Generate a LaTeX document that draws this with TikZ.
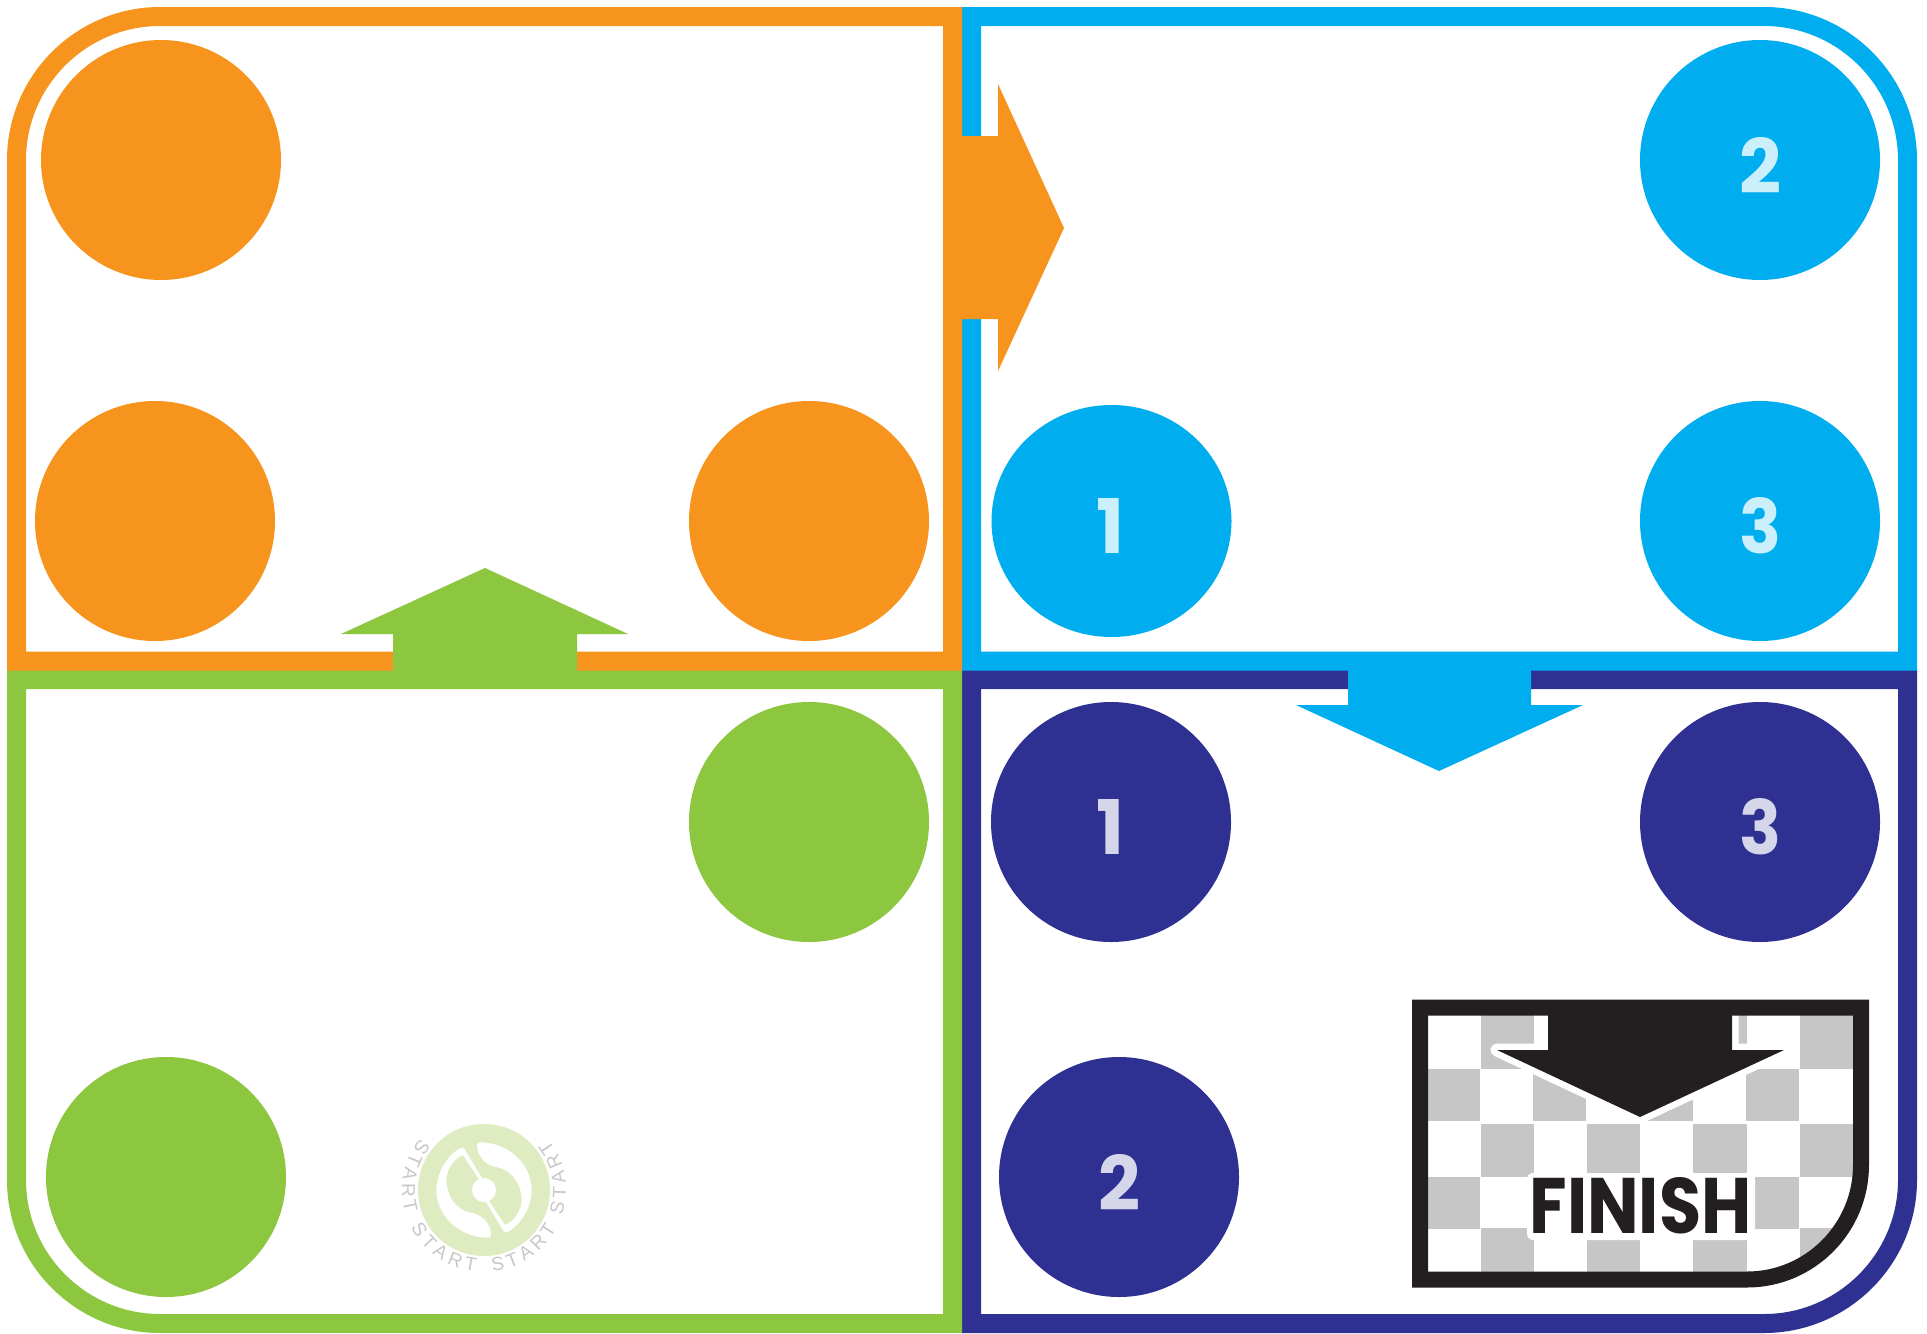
\documentclass[tikz,border=0pt]{standalone}
\usepackage{graphicx}
\usepackage{fontspec}
\usetikzlibrary{shapes.geometric,decorations.text}
\setmainfont{Poppins}
\newfontfamily\startfont{Liberation Sans}
\definecolor{cOrange}{HTML}{F7941E}
\definecolor{cBlue}{HTML}{00AEEF}
\definecolor{cNavy}{HTML}{2E3192}
\definecolor{cGreen}{HTML}{8DC63F}
\definecolor{cBlack}{HTML}{231F20}
\definecolor{cCheck}{HTML}{C6C6C6}
\definecolor{cLogo}{HTML}{DFEBC0}
\definecolor{cStart}{HTML}{C8C8C8}
\definecolor{cOnBlue}{HTML}{CCEFFC}
\definecolor{cOnNavy}{HTML}{D5D6E9}
\tikzset{
  framepath/.style={line width=19pt, line join=miter},
  disc/.style={circle, inner sep=0pt, minimum size=240pt, fill=#1, draw=none},
  digit/.style={inner sep=0pt, text=#1},
  checkcell/.style={fill=cCheck, draw=none},
  startarc/.style={decorate, decoration={text along path, text color=cStart, text align=fit to path,
    text={|\startfont\fontsize{19}{19}\selectfont|START}}},
}
\newcommand{\dig}[3]{\resizebox{#1pt}{#2pt}{\bfseries #3}}
\begin{document}
\begin{tikzpicture}[x=1pt,y=-1pt]
\useasboundingbox (0,0) rectangle (1927,1333);
\fill[white] (0,0) rectangle (1927,1333);
% frames
\draw[framepath,cNavy] (971.5,679.5) -- (1907.5,679.5) -- (1907.5,1180)
  .. controls (1907.5,1259) and (1843,1323.5) .. (1764,1323.5) -- (971.5,1323.5) -- cycle;
\draw[framepath,cGreen] (952.5,679.5) -- (16.5,679.5) -- (16.5,1180)
  .. controls (16.5,1259) and (81,1323.5) .. (160,1323.5) -- (952.5,1323.5) -- cycle;
\draw[framepath,cBlue] (971.5,661) -- (1907.5,661) -- (1907.5,160)
  .. controls (1907.5,81) and (1843,16.5) .. (1764,16.5) -- (971.5,16.5) -- cycle;
\draw[framepath,cOrange] (952.5,661) -- (16.5,661) -- (16.5,160)
  .. controls (16.5,81) and (81,16.5) .. (160,16.5) -- (952.5,16.5) -- cycle;
% arrows
\fill[cBlue] (1348,660) -- (1531,660) -- (1531,705) -- (1583,705) -- (1439,771) -- (1296,705) -- (1348,705) -- cycle;
\fill[cOrange] (950,136) -- (998,136) -- (998,84) -- (1064,228) -- (998,371) -- (998,319) -- (950,319) -- cycle;
\fill[cGreen] (393,680) -- (393,634) -- (341,634) -- (485,568) -- (628,634) -- (577,634) -- (577,680) -- cycle;
% discs
\node[disc=cOrange] (o1) at (161,160) {};
\node[disc=cOrange] (o2) at (155,521) {};
\node[disc=cOrange] (o3) at (809,521) {};
\node[disc=cBlue] (b2) at (1760,160) {};
\node[disc=cBlue, ellipse, minimum width=240pt, minimum height=232pt] (b1) at (1111.5,521) {};
\node[disc=cBlue] (b3) at (1760,521) {};
\node[disc=cNavy] (n1) at (1111,822) {};
\node[disc=cNavy] (n3) at (1760,822) {};
\node[disc=cNavy] (n2) at (1119,1177) {};
\node[disc=cGreen] (g1) at (809,822) {};
\node[disc=cGreen] (g2) at (166,1177) {};
% digits
\node[digit=cOnBlue] (db2) at (1760,165) {\dig{42}{56}{2}};
\node[digit=cOnBlue] (db1) at (1110.5,526) {\dig{28}{55}{1}};
\node[digit=cOnBlue] (db3) at (1760,526) {\dig{42}{56}{3}};
\node[digit=cOnNavy] (dn1) at (1110.5,827) {\dig{28}{55}{1}};
\node[digit=cOnNavy] (dn3) at (1760,827) {\dig{42}{56}{3}};
\node[digit=cOnNavy] (dn2) at (1119,1182) {\dig{42}{56}{2}};
% finish panel: checker
\begin{scope}
\clip (1420,1007.5) -- (1861,1007.5) -- (1861,1165)
  .. controls (1861,1228) and (1810,1279.5) .. (1747,1279.5) -- (1420,1279.5) -- cycle;
\foreach \xa/\xb in {1481/1534,1587/1640,1693/1747,1800/1861}{
  \fill[checkcell] (\xa,1010) rectangle (\xb,1069);
  \fill[checkcell] (\xa,1124) rectangle (\xb,1177);
  \fill[checkcell] (\xa,1228) rectangle (\xb,1280);
}
\foreach \xa/\xb in {1420/1480,1533/1586,1640/1693,1746/1799}{
  \fill[checkcell] (\xa,1069) rectangle (\xb,1121);
  \fill[checkcell] (\xa,1177) rectangle (\xb,1229);
}
\end{scope}
% finish panel: arrow halo, frame, arrow, label
\draw[white, fill=white, line width=13pt, line join=round]
  (1548,1000) -- (1548,1050) -- (1497,1050) -- (1640,1117) -- (1784,1050) -- (1732,1050) -- (1732,1000) -- cycle;
\draw[cBlack, line width=16pt, line join=miter] (1420,1007.5) -- (1861,1007.5) -- (1861,1165)
  .. controls (1861,1228) and (1810,1279.5) .. (1747,1279.5) -- (1420,1279.5) -- cycle;
\fill[cBlack] (1548,1000) -- (1548,1050) -- (1497,1050) -- (1640,1117) -- (1784,1050) -- (1732,1050) -- (1732,1000) -- cycle;
\fill[white, rounded corners=6pt] (1527,1173) rectangle (1755,1240);
\node[inner sep=0pt, text=cBlack] (finish) at (1640.5,1206) {\resizebox{222pt}{56pt}{\bfseries FINISH}};
% start logo
\node[circle, inner sep=0pt, minimum size=132pt, fill=cLogo] (logo) at (484,1190) {};
\begin{scope}[shift={(484,1190)}, scale=1/3]
\foreach \r in {0,180}{
  \fill[white, rotate=\r, line join=round]
    (-72,-125) .. controls (-110,-105) and (-143,-50) .. (-143,0)
    .. controls (-143,75) and (-75,143) .. (12,143)
    .. controls (22,143) and (22,133) .. (20,125)
    .. controls (15,95) and (-10,72) .. (-40,68)
    .. controls (-85,60) and (-113,15) .. (-113,-30)
    .. controls (-113,-60) and (-90,-95) .. (-63,-105)
    -- (-12,-28) -- (-4,-33) -- (-58,-122)
    .. controls (-62,-128) and (-67,-128) .. (-72,-125) -- cycle;
}
\fill[white] (0,0) circle (36);
\end{scope}
\foreach \angA/\angB in {141/196, 207/264, 276/332, 342/398}{
  \path[startarc] ({484+82*cos(\angA)},{1190-82*sin(\angA)})
    arc[start angle=-\angA, end angle=-\angB, radius=82];
}
\end{tikzpicture}
\end{document}
